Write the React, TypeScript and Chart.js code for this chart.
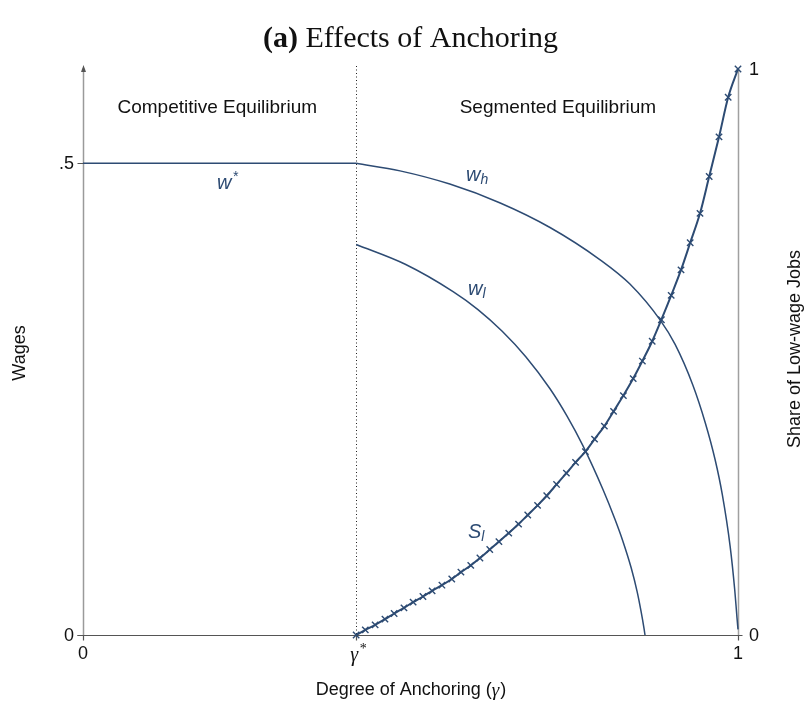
import React, { useEffect, useRef } from "react";
import { Chart, registerables } from "chart.js";
Chart.register(...registerables);

// ---- data ----
const gammaStar = 0.417;

const wStarX = [0, gammaStar];
const wStarY = [0.5, 0.5];

const whX = [0.417, 0.484, 0.560, 0.637, 0.713, 0.789, 0.835, 0.881, 0.904, 0.931, 0.950, 0.965, 0.976, 0.988, 0.995, 0.9985, 1.0];
const whY = [0.500, 0.492, 0.478, 0.458, 0.432, 0.398, 0.372, 0.334, 0.308, 0.265, 0.225, 0.186, 0.149, 0.094, 0.048, 0.018, 0.006];

const wlX = [0.417, 0.492, 0.565, 0.603, 0.640, 0.676, 0.713, 0.739, 0.763, 0.794, 0.812, 0.824, 0.837, 0.846, 0.852, 0.8565, 0.858];
const wlY = [0.414, 0.393, 0.364, 0.345, 0.322, 0.295, 0.261, 0.232, 0.201, 0.154, 0.123, 0.100, 0.071, 0.046, 0.025, 0.007, 0.0];

const slX = [
  0.417, 0.431, 0.446, 0.461, 0.475, 0.490, 0.504, 0.519, 0.533, 0.548,
  0.563, 0.577, 0.592, 0.606, 0.621, 0.635, 0.650, 0.665, 0.679, 0.694,
  0.708, 0.723, 0.738, 0.752, 0.767, 0.781, 0.796, 0.810, 0.825, 0.840,
  0.854, 0.869, 0.883, 0.898, 0.913, 0.927, 0.942, 0.956, 0.971, 0.985, 1.0,
];
const slY = [
  0.000, 0.009, 0.018, 0.028, 0.038, 0.048, 0.058, 0.068, 0.078, 0.088,
  0.099, 0.111, 0.123, 0.136, 0.151, 0.165, 0.180, 0.196, 0.212, 0.229,
  0.246, 0.266, 0.286, 0.305, 0.324, 0.346, 0.369, 0.395, 0.423, 0.453,
  0.484, 0.519, 0.557, 0.600, 0.645, 0.693, 0.745, 0.810, 0.880, 0.950, 1.0,
];

const xTickVals = [0, gammaStar, 1];
const xTickLabels = ["0", "γ", "1"];
const yTickVals = [0, 0.5];
const yTickLabels = ["0", ".5"];
const y2TickVals = [0, 1];
const y2TickLabels = ["0", "1"];

const BLUE = "#2d4b73";
const SANS = "'Liberation Sans', Arial, sans-serif";
const SERIF = "'Liberation Serif', 'DejaVu Serif', serif";

const pts = (xs: number[], ys: number[]) => xs.map((x, i) => ({ x, y: ys[i] }));

const overlay = {
  id: "overlay",
  beforeDatasetsDraw(chart: any) {
    const { ctx } = chart;
    const { x, y, y2 } = chart.scales;
    const x0 = Math.round(x.getPixelForValue(0)) + 0.5;
    const x1 = Math.round(x.getPixelForValue(1)) + 0.5;
    const xg = Math.round(x.getPixelForValue(gammaStar)) + 0.5;
    const yb = Math.round(y.getPixelForValue(0)) + 0.5;
    const yTop = y2.getPixelForValue(1);
    ctx.save();
    // left axis (gray with arrow)
    ctx.strokeStyle = "#9a9a9a";
    ctx.lineWidth = 1.5;
    ctx.beginPath();
    ctx.moveTo(x0, yb);
    ctx.lineTo(x0, yTop - 1);
    ctx.stroke();
    ctx.fillStyle = "#555";
    ctx.beginPath();
    ctx.moveTo(x0, yTop - 4);
    ctx.lineTo(x0 - 2.5, yTop + 3);
    ctx.lineTo(x0 + 2.5, yTop + 3);
    ctx.closePath();
    ctx.fill();
    // right axis
    ctx.strokeStyle = "#a0a0a0";
    ctx.beginPath();
    ctx.moveTo(x1, yb);
    ctx.lineTo(x1, yTop);
    ctx.stroke();
    // dotted gamma* line
    ctx.strokeStyle = "#222";
    ctx.lineWidth = 1;
    ctx.setLineDash([1, 2.5]);
    ctx.beginPath();
    ctx.moveTo(xg, yTop - 3);
    ctx.lineTo(xg, yb);
    ctx.stroke();
    ctx.setLineDash([]);
    // bottom axis
    ctx.strokeStyle = "#555";
    ctx.lineWidth = 1.2;
    ctx.beginPath();
    ctx.moveTo(x0 - 6, yb);
    ctx.lineTo(x1 + 4, yb);
    ctx.stroke();
    // ticks
    ctx.beginPath();
    yTickVals.forEach((v) => {
      const p = Math.round(y.getPixelForValue(v)) + 0.5;
      ctx.moveTo(x0 - 6, p);
      ctx.lineTo(x0, p);
    });
    xTickVals.forEach((v) => {
      const p = Math.round(x.getPixelForValue(v)) + 0.5;
      ctx.moveTo(p, yb);
      ctx.lineTo(p, yb + 5);
    });
    ctx.stroke();
    ctx.restore();
  },
  afterDatasetsDraw(chart: any) {
    const { ctx } = chart;
    const { x, y, y2 } = chart.scales;
    const x0 = x.getPixelForValue(0);
    const x1 = x.getPixelForValue(1);
    const yb = y.getPixelForValue(0);
    ctx.save();
    ctx.fillStyle = "#111";
    // title
    ctx.textBaseline = "alphabetic";
    const TF = 30;
    ctx.font = `bold ${TF}px ${SERIF}`;
    const t1 = "(a) ";
    const t2 = "Effects of Anchoring";
    const w1 = ctx.measureText(t1).width;
    ctx.font = `${TF}px ${SERIF}`;
    const w2 = ctx.measureText(t2).width;
    const cx = (x0 + x1) / 2;
    const sx = cx - (w1 + w2) / 2;
    ctx.textAlign = "left";
    ctx.font = `bold ${TF}px ${SERIF}`;
    ctx.fillText(t1, sx, 47);
    ctx.font = `${TF}px ${SERIF}`;
    ctx.fillText(t2, sx + w1, 47);

    // region labels
    ctx.font = `19px ${SANS}`;
    ctx.textAlign = "center";
    ctx.textBaseline = "middle";
    ctx.fillStyle = "#111";
    ctx.fillText("Competitive Equilibrium", x.getPixelForValue(0.205), y.getPixelForValue(0.559));
    ctx.fillText("Segmented Equilibrium", x.getPixelForValue(0.725), y.getPixelForValue(0.559));

    // left y tick labels
    ctx.font = `18px ${SANS}`;
    ctx.textAlign = "right";
    yTickVals.forEach((v, i) => {
      ctx.fillText(yTickLabels[i], x0 - 9, y.getPixelForValue(v) + 1);
    });
    // right y tick labels
    ctx.textAlign = "left";
    y2TickVals.forEach((v, i) => {
      ctx.fillText(y2TickLabels[i], x1 + 11, y2.getPixelForValue(v) + 1);
    });
    // x tick labels
    ctx.textAlign = "center";
    xTickVals.forEach((v, i) => {
      const px = x.getPixelForValue(v);
      if (xTickLabels[i] === "γ") {
        ctx.font = `italic 20px ${SERIF}`;
        ctx.fillText("γ", px - 2, yb + 21);
        ctx.font = `14px ${SERIF}`;
        ctx.fillText("*", px + 7, yb + 14);
        ctx.font = `18px ${SANS}`;
      } else {
        ctx.fillText(xTickLabels[i], px, yb + 19);
      }
    });
    // x axis title
    ctx.font = `18px ${SANS}`;
    const a1 = "Degree of Anchoring (";
    const a2 = "γ";
    const a3 = ")";
    const wa1 = ctx.measureText(a1).width;
    const wa3 = ctx.measureText(a3).width;
    ctx.font = `italic 19px ${SERIF}`;
    const wa2 = ctx.measureText(a2).width;
    const ax = cx - (wa1 + wa2 + wa3) / 2;
    ctx.textAlign = "left";
    ctx.font = `18px ${SANS}`;
    ctx.fillText(a1, ax, 690);
    ctx.font = `italic 19px ${SERIF}`;
    ctx.fillText(a2, ax + wa1, 691);
    ctx.font = `18px ${SANS}`;
    ctx.fillText(a3, ax + wa1 + wa2 + 1, 690);

    // y axis titles
    ctx.textAlign = "center";
    ctx.save();
    ctx.translate(20, 353);
    ctx.rotate(-Math.PI / 2);
    ctx.fillText("Wages", 0, 0);
    ctx.restore();
    ctx.save();
    ctx.translate(795, 349);
    ctx.rotate(-Math.PI / 2);
    ctx.fillText("Share of Low-wage Jobs", 0, 0);
    ctx.restore();

    // curve labels
    ctx.fillStyle = BLUE;
    const lab = (main: string, sub: string, sup: string, px: number, py: number) => {
      ctx.font = `italic 20px ${SANS}`;
      ctx.textAlign = "left";
      const w = ctx.measureText(main).width;
      ctx.fillText(main, px, py);
      if (sub) {
        ctx.font = `italic 14px ${SANS}`;
        ctx.fillText(sub, px + w, py + 5);
      }
      if (sup) {
        ctx.font = `italic 14px ${SANS}`;
        ctx.fillText(sup, px + w + 1, py - 6);
      }
    };
    lab("w", "", "*", 217, 183);
    lab("w", "h", "", 466, 175);
    lab("w", "l", "", 468, 289);
    lab("S", "l", "", 468, 532);
    ctx.restore();
  },
};

export default function App() {
  const ref = useRef<HTMLCanvasElement | null>(null);
  useEffect(() => {
    if (!ref.current) return;
    const common = { pointRadius: 0, borderColor: BLUE, borderWidth: 1.5, clip: false as any };
    const chart = new Chart(ref.current, {
      type: "line",
      data: {
        datasets: [
          { label: "w*", data: pts(wStarX, wStarY), ...common, yAxisID: "y" },
          { label: "wh", data: pts(whX, whY), ...common, cubicInterpolationMode: "monotone", yAxisID: "y" },
          { label: "wl", data: pts(wlX, wlY), ...common, cubicInterpolationMode: "monotone", yAxisID: "y" },
          {
            label: "Sl",
            data: pts(slX, slY),
            borderColor: BLUE,
            borderWidth: 2,
            pointStyle: "crossRot",
            pointRadius: 4.5,
            pointBorderWidth: 1.4,
            pointBorderColor: BLUE,
            pointBackgroundColor: BLUE,
            cubicInterpolationMode: "monotone",
            yAxisID: "y2",
            clip: false as any,
          },
        ] as any,
      },
      options: {
        responsive: false,
        animation: false,
        layout: { padding: { left: 83, right: 66, top: 69, bottom: 76 } },
        plugins: { legend: { display: false }, title: { display: false }, tooltip: { enabled: false } },
        scales: {
          x: { type: "linear", min: 0, max: 1, display: false },
          y: { type: "linear", min: 0, max: 0.6, display: false },
          y2: { type: "linear", min: 0, max: 1, display: false, position: "right" },
        },
      } as any,
      plugins: [overlay],
    });
    return () => chart.destroy();
  }, []);
  return (
    <div style={{ position: "absolute", left: 0, top: 0, width: 804, height: 711, background: "#fff" }}>
      <canvas ref={ref} width={804} height={711} style={{ display: "block" }} />
    </div>
  );
}
